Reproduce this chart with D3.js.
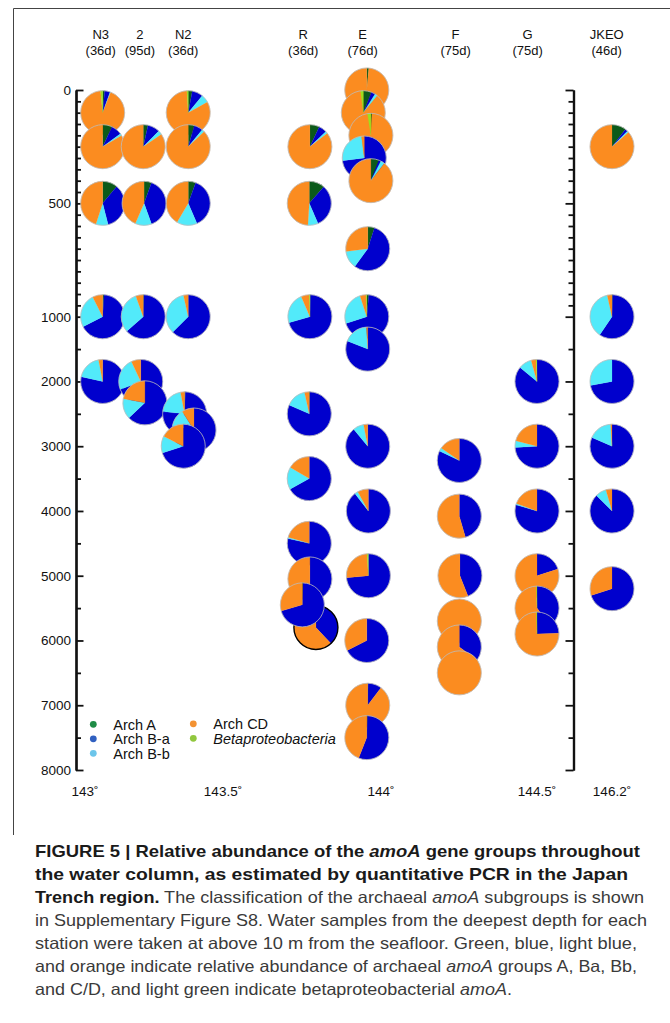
<!DOCTYPE html>
<html><head><meta charset="utf-8">
<script src="https://cdn.jsdelivr.net/npm/d3@7"></script>
<style>body{margin:0;background:#fff}svg{display:block}</style>
</head><body>
<svg id="chart" width="670" height="1023"></svg>
<script>
// ---------- DATA ----------
const groups = ["Arch A", "Arch B-a", "Arch B-b", "Arch CD", "Betaproteobacteria"];
const stations = ["N3", "2", "N2", "R", "E", "F", "G", "JKEO"];
const stationDays = ["(36d)", "(95d)", "(36d)", "(36d)", "(76d)", "(75d)", "(75d)", "(46d)"];
const stationLabelLon = [143.057, 143.199, 143.356, 143.754, 143.942, 144.239, 144.470, 146.08];
const lonTicks = [143, 143.5, 144, 144.5, 146.2];
const lonTickLabels = ["143", "143.5", "144", "144.5", "146.2"];
const depthTicks = [0, 500, 1000, 2000, 3000, 4000, 5000, 6000, 7000, 8000];

// samples, in drawing order
const sampleStation = ["N3","N3","N3","N3","N3",
  "2","2","2","2","2",
  "N2","N2","N2","N2","N2","N2","N2",
  "R","R","R","R","R","R","R","R","R",
  "E","E","E","E","E","E","E","E","E","E","E","E","E","E",
  "F","F","F","F","F","F",
  "G","G","G","G","G","G",
  "JKEO","JKEO","JKEO","JKEO","JKEO","JKEO"];
const sampleLon = [143.064,143.064,143.064,143.064,143.064,
  143.211,143.214,143.211,143.202,143.217,
  143.374,143.374,143.374,143.374,143.361,143.395,143.356,
  143.775,143.773,143.775,143.773,143.773,143.773,143.775,143.794,143.751,
  143.955,143.944,143.968,143.947,143.968,143.958,143.955,143.958,143.958,143.960,143.960,143.955,143.958,143.955,
  144.251,144.251,144.253,144.251,144.251,144.251,
  144.5,144.5,144.5,144.5,144.5,144.5,
  146.2,146.2,146.2,146.2,146.2,146.2];
const sampleDepth = [100,250,500,1000,2000,
  250,500,1000,2000,2330,
  100,250,500,1000,2500,2750,3000,
  250,500,1000,2500,3500,4500,5050,5800,5450,
  0,100,200,300,400,700,1000,1500,3000,4000,5000,6000,7000,7500,
  3220,4080,5000,5700,6100,6500,
  2000,3000,4000,5000,5500,5900,
  250,1000,2000,3000,4000,5200];
// relative abundance (%) per group
const archA  = [1.5,7,11,1,0,  3.5,5.5,0.5,0,0,  3,4.5,5.5,0,0.5,0,0,
  7,11.5,0.5,0.5,0,0,0,0,0.5,
  1.5,6,0.8,0,6,5,1.5,0,0,0,0,0,0.3,0.5,
  0,0,0,0,0,0,  0,0,0,0,0,0,  10.5,0.5,0,0,0,0];
const archBa = [4,8,35,66.5,78.5,  9,39,63,69,63,  8,6.5,38,62.5,76.5,78,70,
  6,32,70,81,67,78.5,50,38,70,
  0,3,0,73,1.5,55,68.5,81,89,89.5,73.5,67.5,10,55.5,
  82,45.5,44,0,35,0,  86,74,79.5,20,40,24.5,  2,59,72,81.5,87.5,70];
const archBb = [0.5,1.5,9,25,18.5,  3,12,31,24,15,  6,2,15,34,20.5,13,12.5,
  1.5,7.5,23,15,16.5,1,0,0,0,
  0,2,0,25,3,13,25,18,8,2.5,0,0,0,0,
  2.5,0,0,0,0,0,  9.7,5,1,0,0,0,  1,37,28,17.5,8,0];
const archCD = [92.5,83.5,45,7.5,3,  84.5,43.5,5.5,7,22,  82,87,41.5,3.5,3,9,17.5,
  85.5,49,6,3.5,16.5,20.5,50,62,29.5,
  98.5,87,96.7,2,89.5,27,4.5,1,3,8,25.5,32.5,89.7,44,
  15.5,54.5,56,100,65,100,  3.6,21,19.5,80,59.5,75,  86.5,3.5,0,1,4.5,30];
const beta   = [1.5,0,0,0,0,  0,0,0,0,0,  1,0,0,0,0,0,0,
  0,0,0.5,0,0,0,0,0,0,
  0,2,2.5,0,0,0,0.5,0,0,0,1,0,0,0,
  0,0,0,0,0,0,  0.7,0,0,0,0.5,0.5,  0,0,0,0,0,0];
const outlinedSamples = [24]; // index of the sample drawn with a black outline

// ---------- STYLE ----------
const pieColors = ["#0b5a1a", "#0000cd", "#52eafa", "#fb8c20", "#9cdf1f"];
const legendColors = ["#1e8c46", "#3060c0", "#6cc5ea", "#f39232", "#91c73e"];
const FONT = "'Liberation Sans', Arial, Helvetica, sans-serif";

const svg = d3.select("#chart");

// frame
svg.append("path").attr("d", "M13.5,835 V8.5 H670")
  .attr("fill", "none").attr("stroke", "#444").attr("stroke-width", 1);

// scales
const x = d3.scaleLinear().domain(lonTicks).range([85, 223, 381, 537, 612]);
const y = d3.scaleLinear().domain([0, 1000, 8000]).range([90, 316.7, 770]);

// ticks
const minorTicks = d3.range(0, 1000, 50).concat(d3.range(1000, 8001, 500))
  .filter(v => !depthTicks.includes(v));

function styleAxis(g) {
  g.selectAll("path.domain").attr("stroke", "#111").attr("stroke-width", 2.2);
  g.selectAll(".tick line").attr("stroke", "#111").attr("stroke-width", 1.8);
}

// left axis (ticks pointing inward/right)
const leftX = 76;
const gL = svg.append("g").attr("transform", `translate(${leftX},0)`);
gL.append("g").call(d3.axisRight(y).tickValues(minorTicks).tickSize(5).tickSizeOuter(0).tickFormat(""))
  .call(styleAxis);
gL.append("g").call(d3.axisRight(y).tickValues(depthTicks).tickSize(7.5).tickSizeOuter(0).tickFormat(""))
  .call(styleAxis);
const gLab = gL.append("g").call(d3.axisLeft(y).tickValues(depthTicks).tickSize(0).tickPadding(5).tickFormat(d3.format("d")));
gLab.select("path.domain").remove();
gLab.selectAll("text").attr("font-family", FONT).attr("font-size", 13.5).attr("fill", "#111");

// right axis (break)
const rightX = 573.5;
const gR = svg.append("g").attr("transform", `translate(${rightX},0)`);
gR.append("g").call(d3.axisLeft(y).tickValues(minorTicks).tickSize(5).tickSizeOuter(0).tickFormat(""))
  .call(styleAxis);
gR.append("g").call(d3.axisLeft(y).tickValues(depthTicks).tickSize(8).tickSizeOuter(0).tickFormat(""))
  .call(styleAxis);

// longitude labels
const xl = svg.append("g").attr("font-family", FONT).attr("font-size", 13.5).attr("fill", "#111");
xl.selectAll("text").data(lonTicks).join("text")
  .attr("x", d => x(d)).attr("y", 796).attr("text-anchor", "middle")
  .text((d, i) => lonTickLabels[i] + "\u02DA");

// station labels
const sl = svg.append("g").attr("font-family", FONT).attr("font-size", 13).attr("fill", "#111")
  .attr("text-anchor", "middle");
stations.forEach((s, i) => {
  sl.append("text").attr("x", x(stationLabelLon[i])).attr("y", 39).text(s);
  sl.append("text").attr("x", x(stationLabelLon[i])).attr("y", 54.5).text(stationDays[i]);
});

// pies
const R = 22;
const pie = d3.pie().sort(null).value(d => d);
const arc = d3.arc().innerRadius(0).outerRadius(R);
const samples = sampleStation.map((s, i) => ({
  i, station: s, lon: sampleLon[i], depth: sampleDepth[i],
  values: [archA[i], archBa[i], archBb[i], archCD[i], beta[i]]
}));
const pg = svg.append("g");
samples.forEach(d => {
  const g = pg.append("g").attr("transform", `translate(${x(d.lon)},${y(d.depth)})`);
  g.selectAll("path").data(pie(d.values).filter(p => p.value > 0)).join("path")
    .attr("d", arc).attr("fill", p => pieColors[p.index])
    .attr("stroke", p => pieColors[p.index]).attr("stroke-width", 0.2);
  const outl = outlinedSamples.includes(d.i);
  g.append("circle").attr("r", R).attr("fill", "none")
    .attr("stroke", outl ? "#000" : "#bcbcbc").attr("stroke-width", outl ? 1.4 : 0.8);
});

// legend
const legendPos = [[93.3, 724.3], [93.3, 738.8], [93.3, 753.3], [193.3, 723.8], [193.3, 738.3]];
const lg = svg.append("g").attr("font-family", FONT).attr("font-size", 14.5).attr("fill", "#111");
groups.forEach((gname, i) => {
  const [cx, cy] = legendPos[i];
  lg.append("circle").attr("cx", cx).attr("cy", cy).attr("r", 3.4).attr("fill", legendColors[i]);
  lg.append("text").attr("x", cx + 20).attr("y", cy + 5.2)
    .attr("font-style", i === 4 ? "italic" : "normal").text(gname);
});

// caption
const captionLines = [
  {len: 605, parts: [["FIGURE 5 | Relative abundance of the ", "b"], ["amoA", "bi"], [" gene groups throughout", "b"]]},
  {len: 593, parts: [["the water column, as estimated by quantitative PCR in the Japan", "b"]]},
  {len: 609, parts: [["Trench region.", "b"], [" The classification of the archaeal ", "r"], ["amoA", "i"], [" subgroups is shown", "r"]]},
  {len: 612, parts: [["in Supplementary Figure S8. Water samples from the deepest depth for each", "r"]]},
  {len: 602, parts: [["station were taken at above 10 m from the seafloor. Green, blue, light blue,", "r"]]},
  {len: 602, parts: [["and orange indicate relative abundance of archaeal ", "r"], ["amoA", "i"], [" groups A, Ba, Bb,", "r"]]},
  {len: 477, parts: [["and C/D, and light green indicate betaproteobacterial ", "r"], ["amoA", "i"], [".", "r"]]}
];
const cap = svg.append("g").attr("font-family", FONT).attr("font-size", 16.5);
captionLines.forEach((line, li) => {
  const t = cap.append("text").attr("x", 35).attr("y", 857 + li * 23)
    .attr("textLength", line.len).attr("lengthAdjust", "spacingAndGlyphs");
  line.parts.forEach(([txt, st]) => {
    t.append("tspan")
      .attr("font-weight", st.includes("b") ? "bold" : "normal")
      .attr("font-style", st.includes("i") ? "italic" : "normal")
      .attr("fill", st.includes("b") ? "#1a1a1a" : "#3a3a3a")
      .text(txt);
  });
});
</script>
</body></html>
